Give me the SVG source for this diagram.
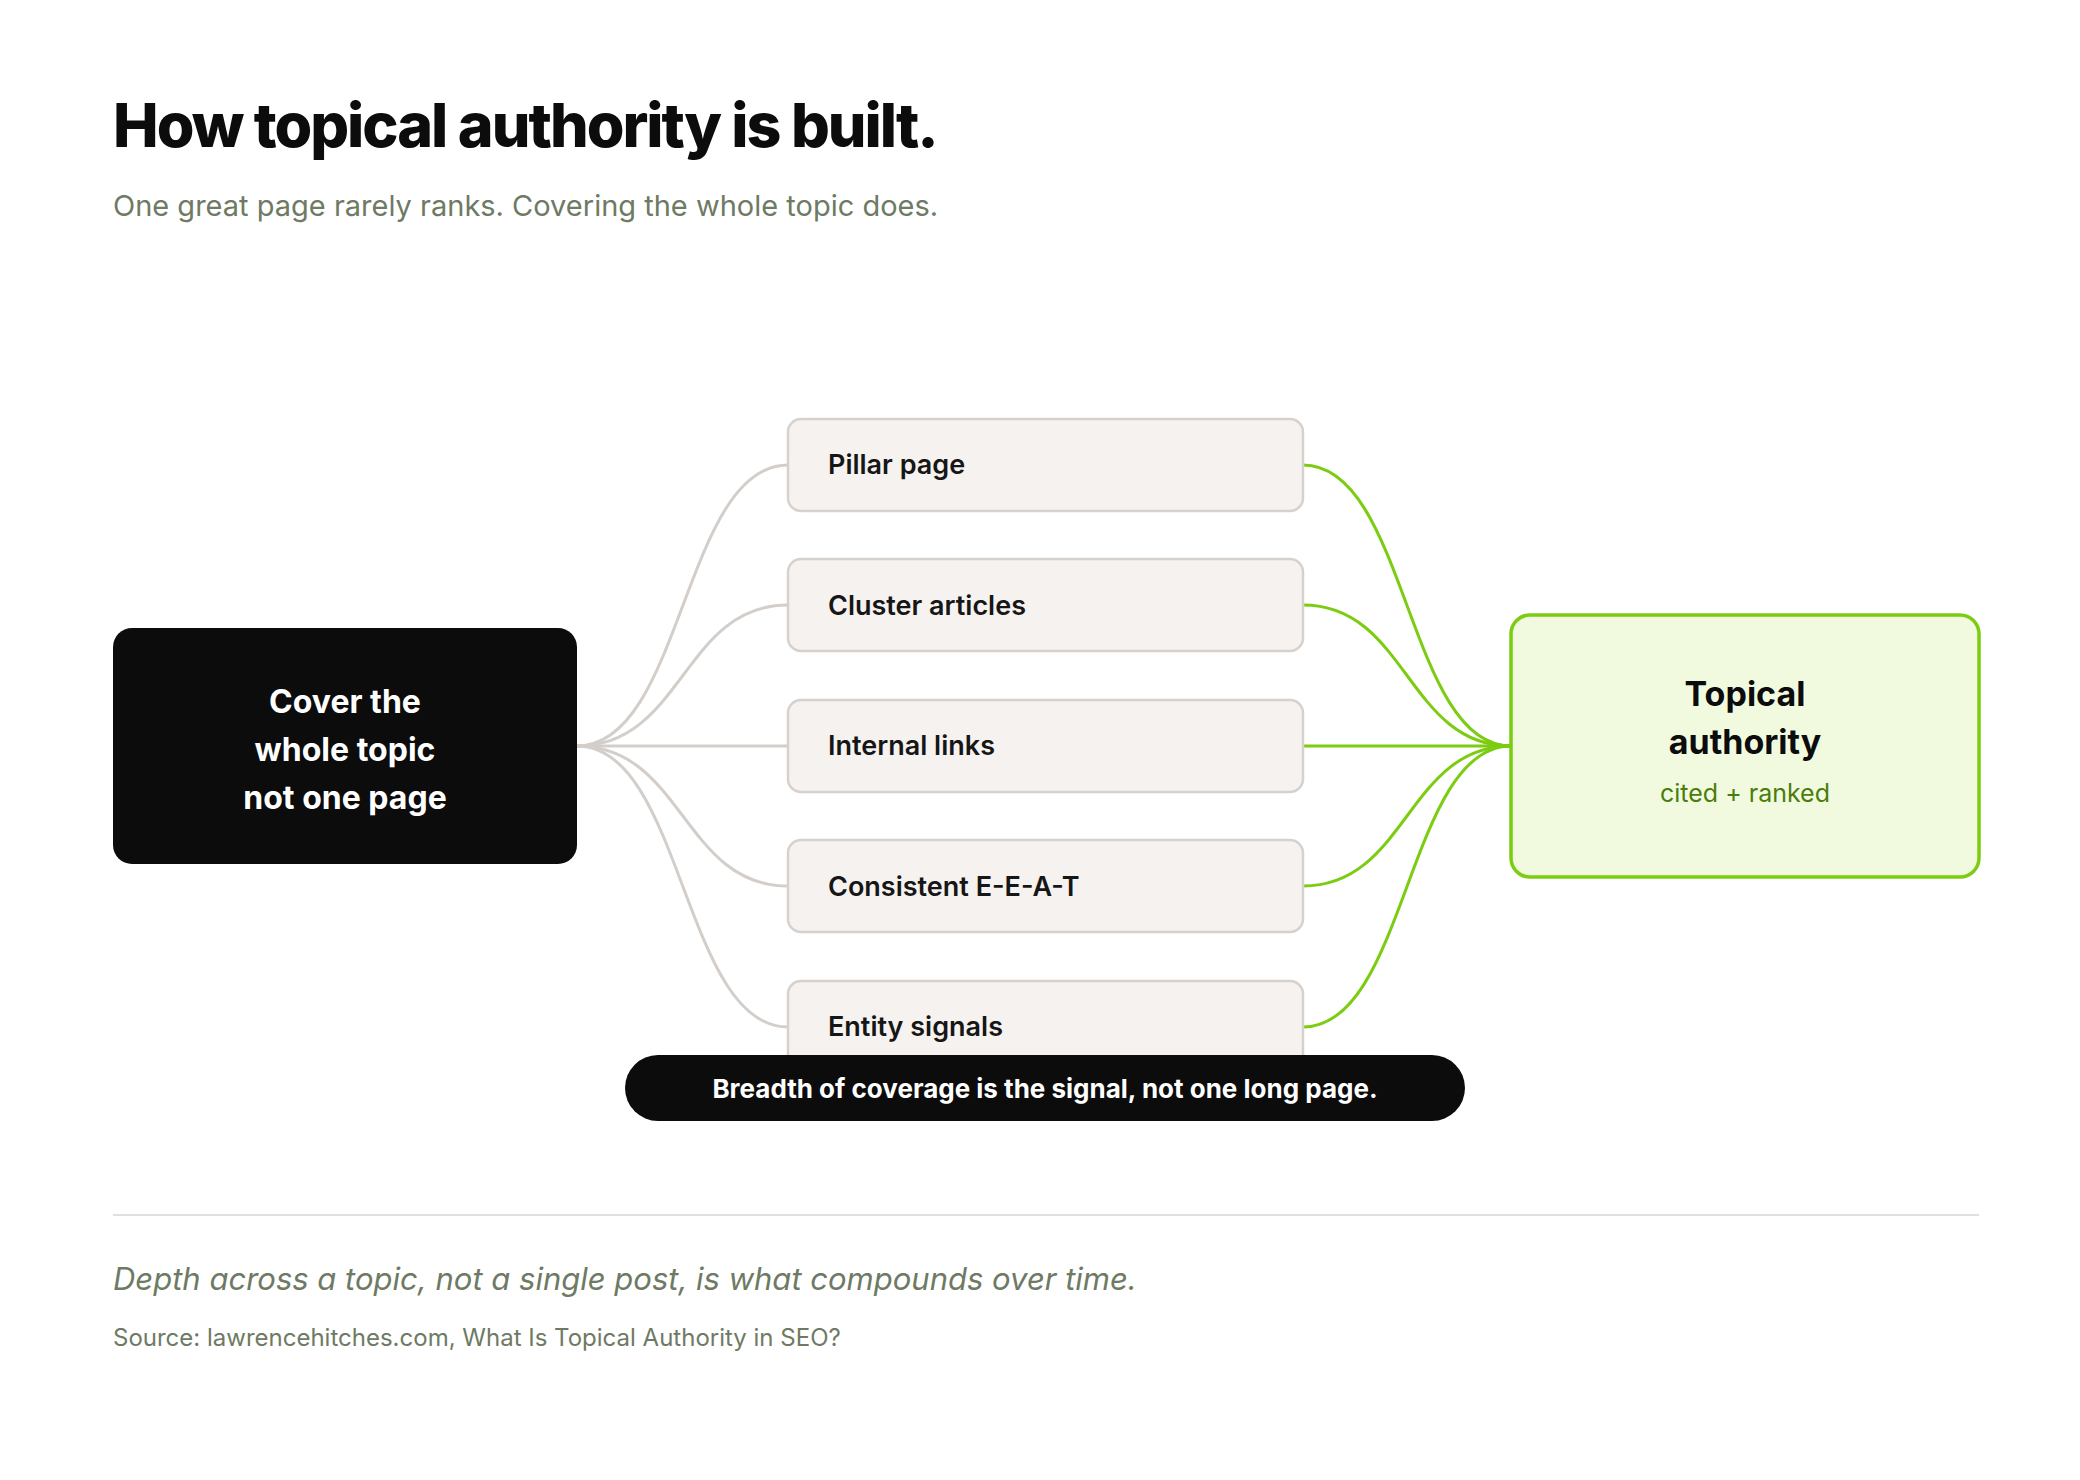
<svg xmlns="http://www.w3.org/2000/svg" width="2080" height="1480" viewBox="0 0 2080 1480">
<style>
text{font-family:Inter,"Noto Sans","Liberation Sans",sans-serif}
.mid rect{fill:#f5f2f0;stroke:#d6d1cd;stroke-width:2.5}
.mid text{font-size:27px;font-weight:600;fill:#161616}
.g{fill:none;stroke:#d3cec9;stroke-width:3}
.v{fill:none;stroke:#7ccc12;stroke-width:3}
</style>
<rect width="2080" height="1480" fill="#fff"/>
<text x="113" y="147" font-size="61" font-weight="800" fill="#0c0c0c" letter-spacing="-2">How topical authority is built.</text>
<text x="113" y="216" font-size="29" fill="#6e7a64">One great page rarely ranks. Covering the whole topic does.</text>
<g id="connectors">
<path class="g" d="M577,746 C683,746 683,465 788,465"/>
<path class="g" d="M577,746 C683,746 683,605 788,605"/>
<path class="g" d="M577,746 L788,746"/>
<path class="g" d="M577,746 C683,746 683,886 788,886"/>
<path class="g" d="M577,746 C683,746 683,1027 788,1027"/>
<path class="v" d="M1303,465 C1407,465 1407,746 1511,746"/>
<path class="v" d="M1303,605 C1407,605 1407,746 1511,746"/>
<path class="v" d="M1303,746 L1511,746"/>
<path class="v" d="M1303,886 C1407,886 1407,746 1511,746"/>
<path class="v" d="M1303,1027 C1407,1027 1407,746 1511,746"/>
</g>
<g id="source">
<rect x="113" y="628" width="464" height="236" rx="19" fill="#0c0c0c"/>
<text x="345" y="713" font-size="32" font-weight="700" fill="#fff" text-anchor="middle">Cover the</text>
<text x="345" y="761" font-size="32" font-weight="700" fill="#fff" text-anchor="middle">whole topic</text>
<text x="345" y="809" font-size="32" font-weight="700" fill="#fff" text-anchor="middle">not one page</text>
</g>
<g id="pillar" class="mid"><rect x="788" y="419" width="515" height="92" rx="13"/><text x="828" y="474">Pillar page</text></g>
<g id="cluster" class="mid"><rect x="788" y="559" width="515" height="92" rx="13"/><text x="828" y="615">Cluster articles</text></g>
<g id="links" class="mid"><rect x="788" y="700" width="515" height="92" rx="13"/><text x="828" y="755">Internal links</text></g>
<g id="eeat" class="mid"><rect x="788" y="840" width="515" height="92" rx="13"/><text x="828" y="896">Consistent E-E-A-T</text></g>
<g id="entity" class="mid"><rect x="788" y="981" width="515" height="92" rx="13"/><text x="828" y="1036">Entity signals</text></g>
<g id="target">
<rect x="1511" y="615" width="468" height="262" rx="19" fill="#f1fadf" stroke="#7ccc12" stroke-width="3.5"/>
<text x="1745" y="706" font-size="34" font-weight="700" fill="#0c0c0c" text-anchor="middle">Topical</text>
<text x="1745" y="754" font-size="34" font-weight="700" fill="#0c0c0c" text-anchor="middle">authority</text>
<text x="1745" y="802" font-size="25" fill="#4a7d0c" text-anchor="middle">cited + ranked</text>
</g>
<g id="banner">
<rect x="625" y="1055" width="840" height="66" rx="33" fill="#0c0c0c"/>
<text x="1045" y="1098" font-size="26" font-weight="700" fill="#fff" text-anchor="middle">Breadth of coverage is the signal, not one long page.</text>
</g>
<line x1="113" y1="1215" x2="1979" y2="1215" stroke="#e2e0dd" stroke-width="2"/>
<text x="113" y="1290" font-size="31" font-style="italic" fill="#6e7a64">Depth across a topic, not a single post, is what compounds over time.</text>
<text x="113" y="1346" font-size="24" fill="#6e7a64">Source: lawrencehitches.com, What Is Topical Authority in SEO?</text>
</svg>
